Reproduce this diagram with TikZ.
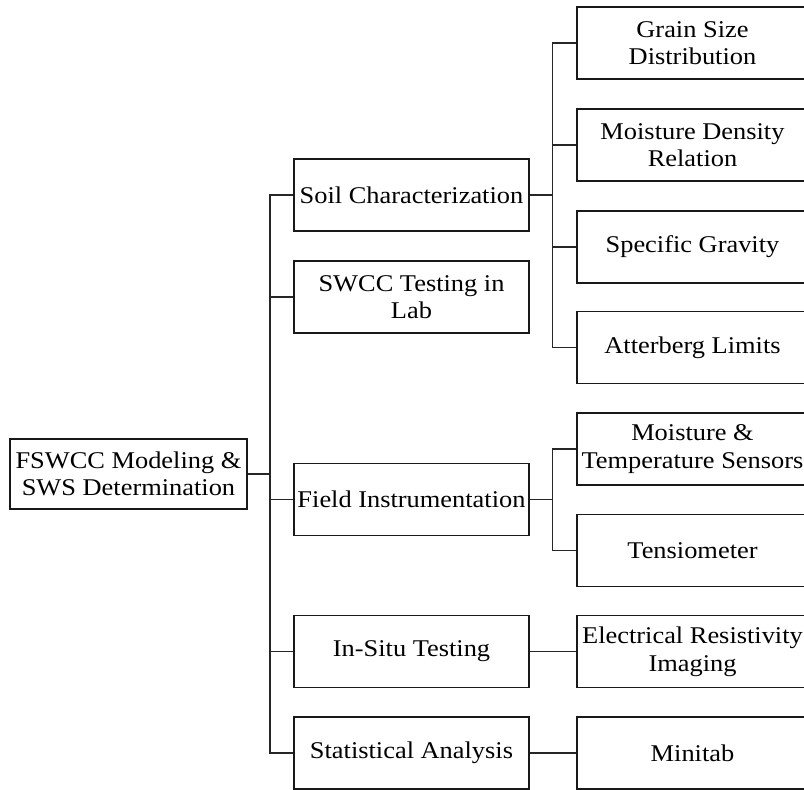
\documentclass[tikz,border=0pt]{standalone}
\usepackage{fontspec}
\setmainfont{Liberation Serif}[FakeStretch=1.1]
\begin{document}
\begin{tikzpicture}[x=1pt,y=-1pt,
  box/.style={draw=black!90,line width=1.7pt,inner sep=0pt,align=center,
    font=\fontsize{24}{27.6}\selectfont},
  lone/.style={box,minimum width=235pt,minimum height=72pt},
  ltwo/.style={box,minimum width=231pt,minimum height=72pt},
  conn/.style={draw=black!85,line width=1.6pt}]
\useasboundingbox (0,0) rectangle (804,790);
\clip (0,0) rectangle (804,790);
\fill[white] (0,0) rectangle (804,790);
% root
\node[box,minimum width=237pt,minimum height=70pt] (root) at (128.5,474) {FSWCC Modeling \&\\SWS Determination};
% level 1
\node[lone] (soil) at (411.5,195) {Soil Characterization};
\node[lone] (swcc) at (411.5,297) {SWCC Testing in\\Lab};
\node[lone] (field) at (411.5,499.5) {Field Instrumentation};
\node[lone] (insitu) at (411.5,651.5) {In-Situ Testing};
\node[lone] (stat) at (411.5,753) {Statistical Analysis};
% level 2
\node[ltwo] (gsd) at (692.5,43) {Grain Size\\Distribution};
\node[ltwo] (mdr) at (692.5,145) {Moisture Density\\Relation};
\node[ltwo] (sg) at (692.5,247) {Specific Gravity};
\node[ltwo] (al) at (692.5,347.5) {Atterberg Limits};
\node[ltwo] (mts) at (692.5,449) {Moisture \&\\Temperature Sensors};
\node[ltwo] (ten) at (692.5,550.5) {Tensiometer};
\node[ltwo] (eri) at (692.5,651.5) {Electrical Resistivity\\Imaging};
\node[ltwo] (mini) at (692.5,753) {Minitab};
% trunk
\coordinate (trunk) at (269.5,474);
\draw[conn,line width=2.6pt] (root.east) -- (trunk);
\draw[conn,line width=2pt] (soil.west) -- (soil.west -| trunk) -- (stat.west -| trunk) -- (stat.west);
\draw[conn] (swcc.west) -- (swcc.west -| trunk);
\draw[conn] (field.west) -- (field.west -| trunk);
\draw[conn] (insitu.west) -- (insitu.west -| trunk);
% soil branch
\coordinate (bs) at (552.5,195);
\draw[conn] (soil.east) -- (bs);
\draw[conn] (gsd.west) -- (gsd.west -| bs) -- (al.west -| bs) -- (al.west);
\draw[conn] (mdr.west) -- (mdr.west -| bs);
\draw[conn] (sg.west) -- (sg.west -| bs);
% field branch
\coordinate (bf) at (552.5,499.5);
\draw[conn] (field.east) -- (bf);
\draw[conn] (mts.west) -- (mts.west -| bf) -- (ten.west -| bf) -- (ten.west);
% single links
\draw[conn] (insitu.east) -- (eri.west);
\draw[conn] (stat.east) -- (mini.west);
\end{tikzpicture}
\end{document}
